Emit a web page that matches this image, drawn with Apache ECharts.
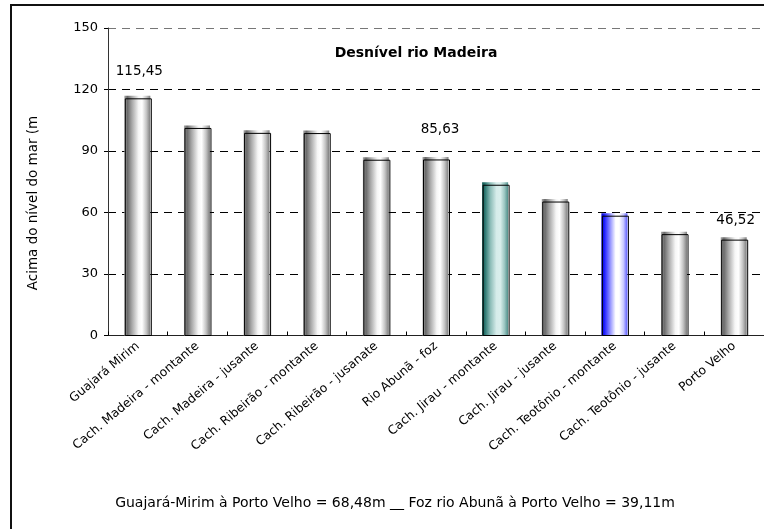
<!DOCTYPE html>
<html>
<head>
<meta charset="utf-8">
<script src="https://cdn.jsdelivr.net/npm/echarts@6/dist/echarts.min.js"></script>
<style>
  html, body { margin: 0; padding: 0; background: #fff; }
  #chart { width: 764px; height: 529px; }
</style>
</head>
<body>
<div id="chart"></div>
<script>
// Altitude (m above sea level) of each point along the Madeira river
const locais = [
  'Guajará Mirim',
  'Cach. Madeira - montante',
  'Cach. Madeira - jusante',
  'Cach. Ribeirão - montante',
  'Cach. Ribeirão - jusanate',
  'Rio Abunã - foz',
  'Cach. Jirau - montante',
  'Cach. Jirau - jusante',
  'Cach. Teotônio - montante',
  'Cach. Teotônio - jusante',
  'Porto Velho'
];
const altitudes = [115.45, 101.0, 98.6, 98.5, 85.5, 85.63, 73.3, 65.1, 58.2, 49.2, 46.52];
// which points carry a value label
const comRotulo = [true, false, false, false, false, true, false, false, false, false, true];
// fill scheme per bar
const esquemas = ['cinza', 'cinza', 'cinza', 'cinza', 'cinza', 'cinza', 'verde', 'cinza', 'azul', 'cinza', 'cinza'];
const yTicks = [0, 30, 60, 90, 120, 150];

const titulo = 'Desnível rio Madeira';
const eixoY = 'Acima do nível do mar (m';
const rodape = 'Guajará-Mirim à Porto Velho = 68,48m __ Foz rio Abunã à Porto Velho = 39,11m';

const FONT = '"DejaVu Sans", "Liberation Sans", sans-serif';

function cilindro(stops) {
  return new echarts.graphic.LinearGradient(0, 0, 1, 0,
    stops.map(s => ({ offset: s[0], color: s[1] })));
}
const gradientes = {
  cinza: cilindro([[0, '#a8a8a8'], [0.12, '#6a6a6a'], [0.3, '#a9a9a9'], [0.55, '#f6f6f6'], [0.68, '#ffffff'], [0.85, '#c4c4c4'], [1, '#7c7c7c']]),
  verde: cilindro([[0, '#0b524c'], [0.12, '#2f7a73'], [0.32, '#8dbdb8'], [0.55, '#d6ecea'], [0.7, '#d9eeec'], [0.86, '#9cc6c2'], [1, '#4f8e89']]),
  azul:  cilindro([[0, '#0000c8'], [0.12, '#2020ff'], [0.32, '#8a8aff'], [0.55, '#ffffff'], [0.68, '#ffffff'], [0.85, '#c8c8ff'], [1, '#5a5aff']])
};
// vertical distance between bar top and value label centre
const labelGap = { 0: 27, 5: 30, 10: 20 };

const chart = echarts.init(document.getElementById('chart'), null, { renderer: 'canvas' });

const dados = altitudes.map((v, i) => [i, v]);

chart.setOption({
  animation: false,
  backgroundColor: '#fff',
  grid: { left: 108, top: 28, right: -3, bottom: 193.5, containLabel: false },
  xAxis: {
    type: 'category',
    data: locais,
    boundaryGap: true,
    axisLine: { show: true, lineStyle: { color: '#222', width: 1 } },
    axisTick: { show: true, inside: true, length: 4, lineStyle: { color: '#000' } },
    axisLabel: {
      interval: 0, rotate: 40, margin: 9,
      fontFamily: FONT, fontSize: 12.3, color: '#000'
    },
    splitLine: { show: false }
  },
  yAxis: {
    type: 'value',
    min: yTicks[0], max: yTicks[yTicks.length - 1], interval: 30,
    axisLine: { show: true, lineStyle: { color: '#333', width: 1 } },
    axisTick: { show: true, length: 4, lineStyle: { color: '#000' } },
    axisLabel: { margin: 10, fontFamily: FONT, fontSize: 13, color: '#000' },
    splitLine: {
      show: true,
      lineStyle: { color: ['#000', '#000', '#000', '#000', '#000', '#777'], width: 1, type: [8, 6] }
    }
  },
  series: [{
    type: 'custom',
    data: dados,
    encode: { x: 0, y: 1 },
    clip: false,
    z: 3,
    renderItem: function (params, api) {
      const i = api.value(0);
      const v = api.value(1);
      const topo = api.coord([i, v]);
      const base = api.coord([i, 0]);
      const cx = topo[0];
      const w = 26;
      const children = [
        {
          type: 'rect',
          shape: { x: cx - 13.5, y: topo[1] - 3, width: w, height: base[1] - topo[1] + 3 },
          style: { fill: gradientes[esquemas[i]] }
        },
        {
          type: 'rect',
          shape: { x: cx - 12.5, y: topo[1], width: w, height: base[1] - topo[1] },
          style: { fill: null, stroke: '#000', lineWidth: 1 }
        }
      ];
      if (comRotulo[i]) {
        children.push({
          type: 'text',
          x: cx + (i === 5 ? 4 : 1.5),
          y: topo[1] - labelGap[i],
          style: {
            text: v.toFixed(2).replace('.', ','),
            fontFamily: FONT, fontSize: 13.5, fill: '#000',
            align: 'center', verticalAlign: 'middle'
          }
        });
      }
      return { type: 'group', children: children };
    }
  }],
  graphic: [
    {
      type: 'rect', silent: true, z: 0,
      shape: { x: 11, y: 5, width: 800, height: 600 },
      style: { fill: null, stroke: '#111', lineWidth: 2 }
    },
    {
      type: 'text', x: 416, y: 53, z: 10,
      style: {
        text: titulo, fontFamily: FONT, fontSize: 14, fontWeight: 'bold', fill: '#000',
        align: 'center', verticalAlign: 'middle'
      }
    },
    {
      type: 'text', x: 33, y: 203, rotation: Math.PI / 2, z: 10,
      style: {
        text: eixoY, fontFamily: FONT, fontSize: 13.5, fill: '#000',
        align: 'center', verticalAlign: 'middle'
      }
    },
    {
      type: 'text', x: 395, y: 503, z: 10,
      style: {
        text: rodape, fontFamily: FONT, fontSize: 14, fill: '#000',
        align: 'center', verticalAlign: 'middle'
      }
    }
  ]
});
</script>
</body>
</html>
